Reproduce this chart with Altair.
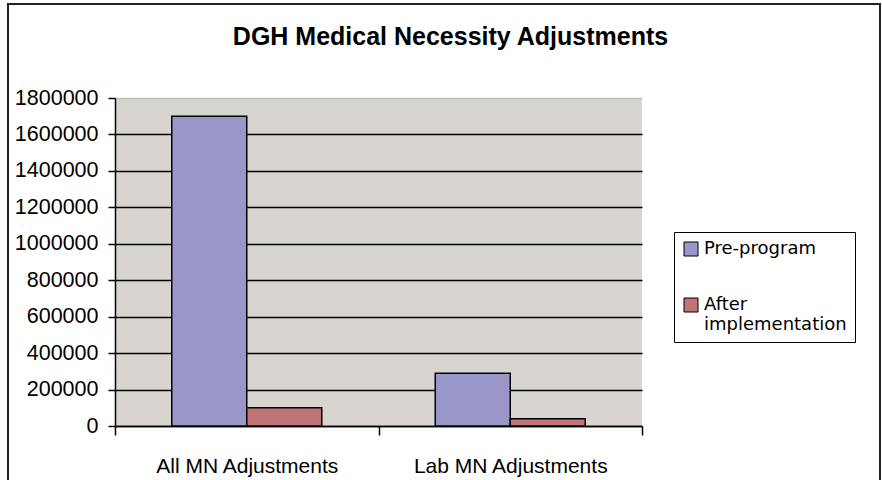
import altair as alt
import pandas as pd

categories = ["All MN Adjustments", "Lab MN Adjustments"]
series = ["Pre-program", "After implementation"]
pre_program = [1700000, 290000]
after_impl = [100000, 40000]
y_ticks = [0, 200000, 400000, 600000, 800000, 1000000, 1200000, 1400000, 1600000, 1800000]
colors = ["#9B96C9", "#BF7576"]

rows = []
for i, c in enumerate(categories):
    rows.append({"category": c, "series": series[0], "value": pre_program[i]})
    rows.append({"category": c, "series": series[1], "value": after_impl[i]})
df = pd.DataFrame(rows)

bars = alt.Chart(df).mark_bar(stroke="black", strokeWidth=1.5).encode(
    x=alt.X("category:N", sort=categories,
            scale=alt.Scale(paddingInner=0, paddingOuter=0),
            axis=alt.Axis(title=None, labelAngle=0, tickBand="extent",
                          labelFont="Liberation Sans", labelFontSize=21,
                          labelColor="black", labelPadding=20, tickSize=9,
                          tickColor="black", tickWidth=1.5, labelLimit=400,
                          domainColor="black", domainWidth=1.5, grid=False)),
    xOffset=alt.XOffset("series:N", sort=series,
                        scale=alt.Scale(paddingOuter=0.757, paddingInner=0)),
    y=alt.Y("value:Q",
            scale=alt.Scale(domain=[0, 1800000], nice=False),
            axis=alt.Axis(title=None, values=y_ticks, format="d",
                          labelFont="Liberation Sans", labelFontSize=21.5,
                          labelColor="black", labelPadding=10, tickSize=7,
                          tickColor="black", tickWidth=1.5,
                          domainColor="black", domainWidth=1.5,
                          grid=True, gridWidth=1.5,
                          gridColor={"condition": {"test": "datum.value >= 1800000", "value": "#c4c0bc"},
                                     "value": "black"})),
    color=alt.Color("series:N", sort=series,
                    scale=alt.Scale(domain=series, range=colors),
                    legend=alt.Legend(
                        title=None, orient="none", legendX=559, legendY=134,
                        direction="vertical",
                        symbolType="square", symbolSize=196,
                        symbolStrokeColor="black", symbolStrokeWidth=1,
                        labelFont="DejaVu Sans", labelFontSize=18,
                        labelColor="black",
                        labelExpr="datum.label == 'After implementation' ? ['After', 'implementation'] : datum.label",
                        rowPadding=38, padding=8,
                        fillColor="white", strokeColor="black",
                        labelLimit=300)),
)

border = alt.Chart(pd.DataFrame({"a": [0]})).mark_rect(
    fill=None, stroke="#222222", strokeWidth=2
).encode(
    x=alt.value(-107), x2=alt.value(765), y=alt.value(-94), y2=alt.value(400)
)

chart = alt.layer(border, bars).properties(
    width=527, height=328,
    title=alt.TitleParams("DGH Medical Necessity Adjustments",
                          font="Liberation Sans", fontSize=25, fontWeight="bold",
                          color="black", anchor="middle", baseline="alphabetic",
                          dx=72, dy=67, offset=0),
    autosize=alt.AutoSizeParams(type="none"),
    padding={"left": 115, "top": 98, "right": 240, "bottom": 54},
    background="white",
).configure_view(fill="#D8D4D0", stroke=None)

chart.save("out.html", embed_options={"renderer": "svg", "actions": False})
